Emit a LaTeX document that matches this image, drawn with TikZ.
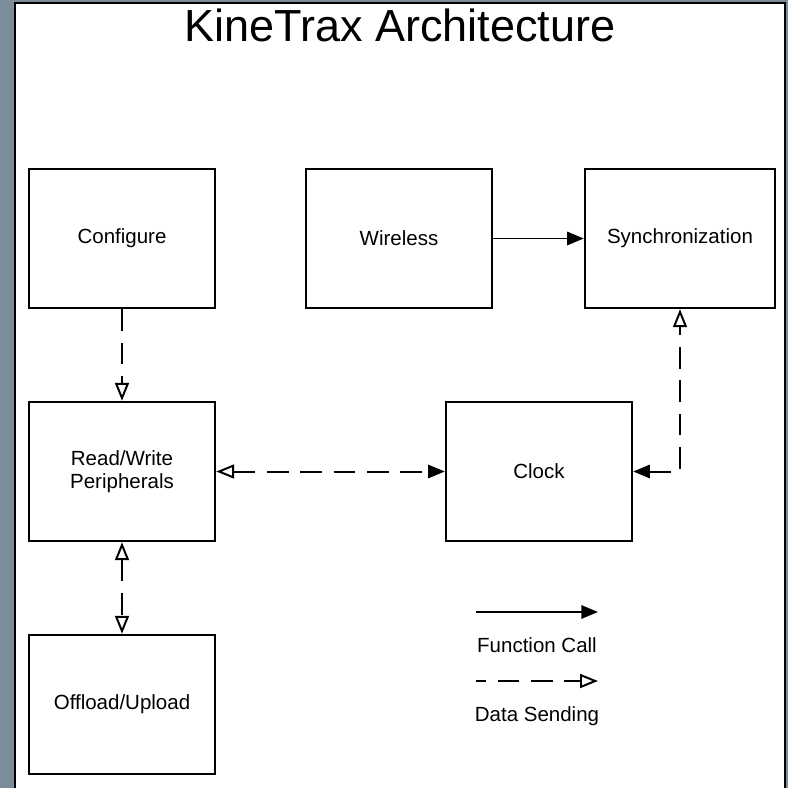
\documentclass[tikz,border=0pt]{standalone}
\usepackage{fontspec}
\setmainfont{Liberation Sans}
\usetikzlibrary{arrows.meta,positioning}
\definecolor{frameback}{RGB}{122,141,153}

\begin{document}
\begin{tikzpicture}[x=0.03cm,y=-0.03cm]
\tikzset{blk/.style={draw=black,line width=2.1pt,fill=white,minimum width=5.58cm,minimum height=4.17cm,align=center,inner sep=0pt,font=\fontsize{17.5}{19.6}\selectfont},
lbl/.style={font=\fontsize{17.5}{19.6}\selectfont,inner sep=0pt},
ftip/.tip={Triangle[length=0.5cm,width=0.4cm]},
otip/.tip={Triangle[open,length=0.54cm,width=0.42cm]},
fcall/.style={line width=1.7pt,-{ftip}},
dsend/.style={line width=1.7pt,dash pattern=on 0.65cm off 0.35cm}}
\useasboundingbox (0,0) rectangle (788,788);
\fill[frameback] (0,0) rectangle (788,788);
\draw[fill=white,line width=2pt] (15,3) rectangle (785,800);
\node[font=\fontsize{38.4}{46}\selectfont,anchor=base,inner sep=0pt] (ttl) at (400,42) {KineTrax Architecture};
% boxes
\node[blk] (cfg) at (122,238.5) {Configure};
\node[blk] (wls) at (399,238.5) {Wireless};
\node[blk,minimum width=5.7cm] (syn) at (680,238.5) {Synchronization};
\node[blk] (rwp) at (122,471.5) {Read/Write\\Peripherals};
\node[blk] (clk) at (539,471.5) {Clock};
\node[blk] (off) at (122,704.5) {Offload/Upload};
% connectors
\draw[fcall] (wls) -- (syn);
\draw[dsend,-{otip}] (cfg) -- (rwp);
\draw[dsend,{otip}-{otip}] (rwp) -- (off);
\draw[dsend,{otip}-{ftip}] (rwp) -- (clk);
\draw[dsend,{ftip}-{otip}] (clk) -| (syn);
% legend
\coordinate (fca) at (476,612);
\coordinate (fcb) at (598,612);
\draw[fcall] (fca) -- (fcb);
\node[lbl] (fctxt) at (537,645) {Function Call};
\coordinate (dsa) at (476,681);
\coordinate (dsb) at (598,681);
\draw[dsend,dash phase=0.35cm,-{otip}] (dsa) -- (dsb);
\node[lbl] (dstxt) at (537,716) {Data Sending};
\end{tikzpicture}
\end{document}
